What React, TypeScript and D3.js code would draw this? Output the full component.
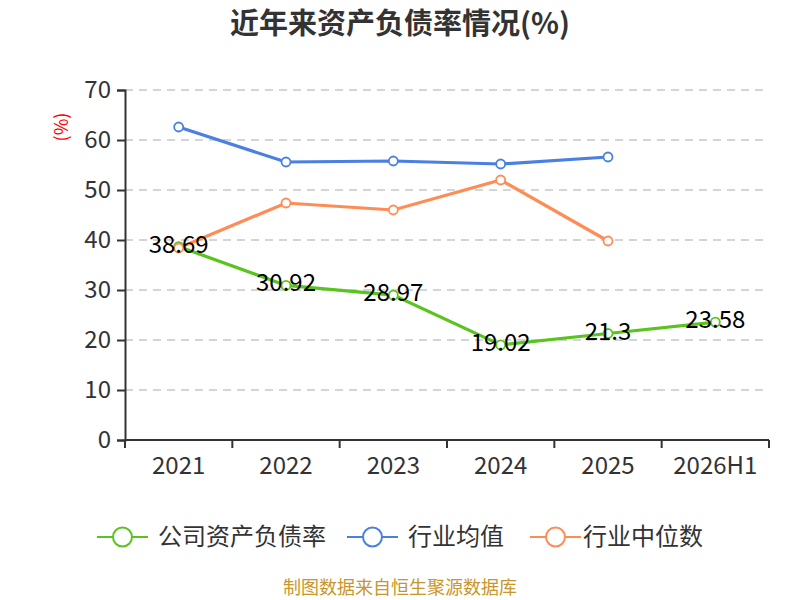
import { useEffect, useRef } from 'react';
import * as d3 from 'd3';

const categories = ['2021', '2022', '2023', '2024', '2025', '2026H1'];
const companyRatio = [38.69, 30.92, 28.97, 19.02, 21.3, 23.58];
const industryMean = [62.6, 55.6, 55.8, 55.2, 56.6];
const industryMedian = [38.4, 47.4, 46.0, 52.0, 39.8];
const yTicks = [0, 10, 20, 30, 40, 50, 60, 70];
const seriesNames = ['公司资产负债率', '行业均值', '行业中位数'];
const seriesColors = ['#5ac41e', '#4a80e0', '#ff8c55'];

const FONT = '"Noto Sans CJK SC", "Noto Sans", sans-serif';

const App = () => {
  const svgRef = useRef<SVGSVGElement>(null);

  useEffect(() => {
    if (!svgRef.current) return;
    const svg = d3.select(svgRef.current);
    svg.selectAll('*').remove();

    const width = 800;
    const height = 600;
    const margin = { top: 90, right: 31, bottom: 160, left: 125 };
    const chartWidth = width - margin.left - margin.right;
    const chartHeight = height - margin.top - margin.bottom;

    svg.attr('width', width).attr('height', height).style('font-family', FONT);

    // Title
    svg.append('text')
      .attr('x', width / 2)
      .attr('y', 34)
      .attr('text-anchor', 'middle')
      .attr('font-size', 29)
      .attr('font-weight', 'bold')
      .attr('fill', '#333')
      .text('近年来资产负债率情况(%)');

    const g = svg.append('g').attr('transform', `translate(${margin.left},${margin.top})`);

    const x = d3.scaleBand().domain(categories).range([0, chartWidth]);
    const y = d3.scaleLinear().domain([0, 70]).range([chartHeight, 0]);

    // Grid lines
    g.selectAll('.grid')
      .data(yTicks.filter(d => d > 0))
      .enter()
      .append('line')
      .attr('x1', 0)
      .attr('x2', chartWidth)
      .attr('y1', d => y(d))
      .attr('y2', d => y(d))
      .attr('stroke', '#c8c8c8')
      .attr('stroke-width', 1.5)
      .attr('stroke-dasharray', '8,6');

    // Y axis
    const yAxis = g.append('g')
      .call(d3.axisLeft(y).tickValues(yTicks).tickSize(8).tickPadding(6));
    yAxis.selectAll('path, line').attr('stroke', '#333').attr('stroke-width', 2);
    yAxis.selectAll('text').attr('font-size', 24).attr('fill', '#333').attr('font-family', FONT);

    // X axis
    const bandEdges = categories.map(c => x(c) || 0).concat([chartWidth]);
    const xAxis = g.append('g').attr('transform', `translate(0,${chartHeight})`);
    xAxis.append('line')
      .attr('x1', 0).attr('x2', chartWidth)
      .attr('stroke', '#333').attr('stroke-width', 2);
    xAxis.selectAll('.tick')
      .data(bandEdges)
      .enter()
      .append('line')
      .attr('x1', d => d).attr('x2', d => d)
      .attr('y1', 0).attr('y2', 8)
      .attr('stroke', '#333').attr('stroke-width', 2);
    xAxis.selectAll('.lbl')
      .data(categories)
      .enter()
      .append('text')
      .attr('x', d => (x(d) || 0) + x.bandwidth() / 2)
      .attr('y', 34)
      .attr('text-anchor', 'middle')
      .attr('font-size', 24)
      .attr('fill', '#333')
      .text(d => d);

    // Y axis name
    svg.append('text')
      .attr('transform', `translate(68,127) rotate(-90)`)
      .attr('text-anchor', 'middle')
      .attr('font-size', 18)
      .attr('fill', '#ff0000')
      .text('(%)');

    const cx = (i: number) => (x(categories[i]) || 0) + x.bandwidth() / 2;
    const line = d3.line<number>().x((_, i) => cx(i)).y(d => y(d));

    const allSeries = [companyRatio, industryMean, industryMedian];
    allSeries.forEach((values, si) => {
      g.append('path')
        .datum(values)
        .attr('d', line)
        .attr('fill', 'none')
        .attr('stroke', seriesColors[si])
        .attr('stroke-width', 3.2);
      g.selectAll(`.pt${si}`)
        .data(values)
        .enter()
        .append('circle')
        .attr('cx', (_, i) => cx(i))
        .attr('cy', d => y(d))
        .attr('r', 4.5)
        .attr('fill', '#fff')
        .attr('stroke', seriesColors[si])
        .attr('stroke-width', 1.8);
    });

    // Labels for company ratio
    g.selectAll('.val')
      .data(companyRatio)
      .enter()
      .append('text')
      .attr('x', (_, i) => cx(i))
      .attr('y', d => y(d) + 6)
      .attr('text-anchor', 'middle')
      .attr('font-size', 24)
      .attr('fill', '#000')
      .text(d => `${d}`);

    // Legend
    const legendX = [97, 347, 530];
    const legendTextX = [158, 408, 583];
    const legendY = 537;
    seriesNames.forEach((name, i) => {
      const lg = svg.append('g');
      lg.append('line')
        .attr('x1', legendX[i]).attr('x2', legendX[i] + 51)
        .attr('y1', legendY).attr('y2', legendY)
        .attr('stroke', seriesColors[i]).attr('stroke-width', 2);
      lg.append('circle')
        .attr('cx', legendX[i] + 25.5).attr('cy', legendY)
        .attr('r', 9.5)
        .attr('fill', '#fff')
        .attr('stroke', seriesColors[i]).attr('stroke-width', 2);
      lg.append('text')
        .attr('x', legendTextX[i]).attr('y', legendY + 8)
        .attr('font-size', 24)
        .attr('fill', '#333')
        .text(name);
    });

    // Footer
    svg.append('text')
      .attr('x', width / 2)
      .attr('y', 594)
      .attr('text-anchor', 'middle')
      .attr('font-size', 18)
      .attr('fill', '#c8962a')
      .text('制图数据来自恒生聚源数据库');
  }, []);

  return (
    <div style={{ position: 'absolute', left: 0, top: 0, background: '#fff' }}>
      <svg ref={svgRef} />
    </div>
  );
};

export default App;
